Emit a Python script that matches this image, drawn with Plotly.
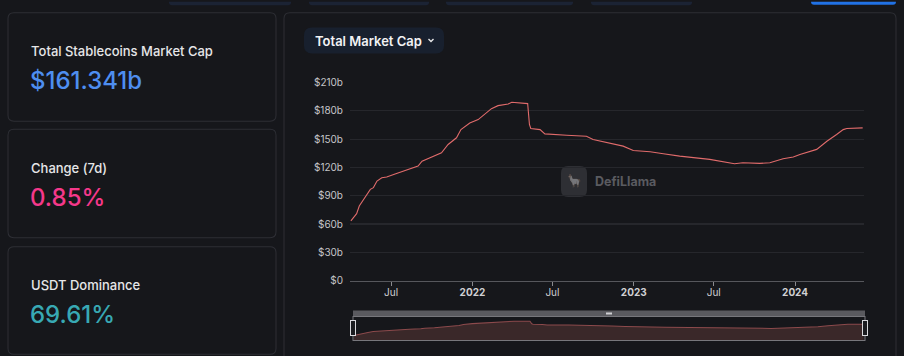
import plotly.graph_objects as go

W, H = 904, 356

# ---- data ----
dates = [
    "2021-04-01", "2021-04-14", "2021-04-20", "2021-05-03", "2021-05-15", "2021-05-22",
    "2021-05-30", "2021-06-10", "2021-06-21", "2021-07-10", "2021-08-05", "2021-08-31",
    "2021-09-09", "2021-10-01", "2021-10-23", "2021-11-07", "2021-11-26", "2021-12-06",
    "2021-12-26", "2022-01-14", "2022-01-29", "2022-02-13", "2022-02-28", "2022-03-23",
    "2022-03-31", "2022-04-30", "2022-05-06", "2022-05-10", "2022-05-13", "2022-06-03",
    "2022-06-14", "2022-08-02", "2022-09-16", "2022-10-01", "2022-11-08", "2022-12-08",
    "2022-12-31", "2023-02-07", "2023-03-09", "2023-04-15", "2023-06-22", "2023-08-17",
    "2023-09-05", "2023-10-13", "2023-11-05", "2023-12-05", "2023-12-28", "2024-01-12",
    "2024-02-19", "2024-03-13", "2024-04-04", "2024-04-19", "2024-04-27", "2024-06-02",
]
market_cap_b = [
    63.3, 71.0, 79.0, 88.0, 96.7, 98.5,
    105.5, 109.0, 109.7, 113.0, 116.8, 121.4,
    126.6, 130.9, 135.4, 144.2, 151.3, 160.0,
    167.0, 170.6, 175.9, 182.2, 185.4, 187.1,
    188.9, 187.8, 187.5, 165.4, 161.1, 160.0,
    155.5, 154.0, 153.0, 149.5, 146.0, 142.5,
    137.9, 136.5, 134.4, 131.9, 128.4, 123.8,
    124.9, 124.2, 124.9, 129.1, 130.9, 133.7,
    139.0, 147.7, 154.8, 160.0, 161.1, 161.8,
]
y_ticks = [0, 30, 60, 90, 120, 150, 180, 210]
y_tick_labels = ["$0", "$30b", "$60b", "$90b", "$120b", "$150b", "$180b", "$210b"]
x_ticks = ["2021-07-01", "2022-01-01", "2022-07-01", "2023-01-01", "2023-07-01", "2024-01-01"]
x_tick_labels = ["Jul", "<b>2022</b>", "Jul", "<b>2023</b>", "Jul", "<b>2024</b>"]

stat_titles = ["Total Stablecoins Market Cap", "Change (7d)", "USDT Dominance"]
stat_values = ["$161.341b", "0.85%", "69.61%"]
stat_colors = ["#4e8ef0", "#f5388a", "#38a9b4"]

BG = "#16171b"
BORDER = "#2e2f35"
LINE = "#e06b6b"
FONT = "Inter"


def px(x):
    return x / W


def py(y):
    return 1 - y / H


def rrect(x0, y0, x1, y1, r, fill, line=None, lw=1, open_bottom=False):
    X0, X1 = px(x0), px(x1)
    Y0, Y1 = py(y0), py(y1)
    rx, ry = r / W, r / H
    if open_bottom:
        p = (f"M {X0},{Y1} L {X0},{Y0-ry} Q {X0},{Y0} {X0+rx},{Y0} "
             f"L {X1-rx},{Y0} Q {X1},{Y0} {X1},{Y0-ry} L {X1},{Y1}")
    else:
        p = (f"M {X0+rx},{Y0} L {X1-rx},{Y0} Q {X1},{Y0} {X1},{Y0-ry} "
             f"L {X1},{Y1+ry} Q {X1},{Y1} {X1-rx},{Y1} L {X0+rx},{Y1} "
             f"Q {X0},{Y1} {X0},{Y1+ry} L {X0},{Y0-ry} Q {X0},{Y0} {X0+rx},{Y0} Z")
    return dict(type="path", path=p, xref="paper", yref="paper", fillcolor=fill,
                line=dict(color=line if line else "rgba(0,0,0,0)", width=lw if line else 0),
                layer="below")


def tab(x0, x1, y1, r, fill):
    # flat top at the page edge, rounded bottom corners
    X0, X1 = px(x0), px(x1)
    Y0, Y1 = py(0), py(y1)
    rx, ry = r / W, min(r, y1) / H
    p = (f"M {X0},{Y0} L {X1},{Y0} L {X1},{Y1+ry} Q {X1},{Y1} {X1-rx},{Y1} "
         f"L {X0+rx},{Y1} Q {X0},{Y1} {X0},{Y1+ry} Z")
    return dict(type="path", path=p, xref="paper", yref="paper", fillcolor=fill,
                line=dict(width=0), layer="below")


fig = go.Figure()

# main line
fig.add_trace(go.Scatter(x=dates, y=market_cap_b, mode="lines",
                         line=dict(color=LINE, width=1.1), hoverinfo="skip",
                         xaxis="x", yaxis="y", showlegend=False))
# mini overview in the zoom slider
fig.add_trace(go.Scatter(x=dates, y=market_cap_b, mode="lines", fill="tozeroy",
                         line=dict(color="#8c4a4c", width=1), fillcolor="#3a2829",
                         hoverinfo="skip", xaxis="x2", yaxis="y2", showlegend=False))

shapes = []
# top strip tabs
for x0, x1 in [(169, 291), (309, 429), (446, 573), (591, 692)]:
    shapes.append(tab(x0, x1, 3.5, 3, "#1b2334"))
shapes.append(tab(811, 896, 3, 3, "#2172e5"))

# cards
for y0, y1 in [(11, 120), (128, 237), (246, 354)]:
    shapes.append(rrect(8, y0, 276, y1, 6, BG, BORDER, 1))
shapes.append(rrect(284, 11, 896, 356, 6, BG, BORDER, 1, open_bottom=True))

# title button
shapes.append(rrect(304, 26, 444, 52, 8, "#18202e"))
shapes.append(dict(type="path", xref="paper", yref="paper",
                   path=f"M {px(428.5)},{py(37.5)} L {px(431)},{py(40)} L {px(433.5)},{py(37.5)}",
                   line=dict(color="#e8e8ea", width=1.4)))

# watermark logo
shapes.append(rrect(561, 165, 587, 196, 7, "#2e2f34"))

# slider frame
shapes.append(dict(type="rect", xref="paper", yref="paper", x0=px(353), x1=px(865),
                   y0=py(316), y1=py(310), fillcolor="#5a5a5f", line=dict(width=0)))
shapes.append(dict(type="rect", xref="paper", yref="paper", x0=px(353), x1=px(865),
                   y0=py(340), y1=py(316), fillcolor="rgba(0,0,0,0)",
                   line=dict(color="#77777c", width=1)))
for hx in (353, 865):
    shapes.append(dict(type="rect", xref="paper", yref="paper", x0=px(hx - 2.5), x1=px(hx + 2.5),
                       y0=py(335), y1=py(320), fillcolor="#1b1c20",
                       line=dict(color="#d8d8dc", width=1), layer="above"))
shapes.append(dict(type="rect", xref="paper", yref="paper", x0=px(606), x1=px(612),
                   y0=py(314), y1=py(312), fillcolor="#cfcfd3", line=dict(width=0), layer="above"))

annotations = []
for i, (t, v, c) in enumerate(zip(stat_titles, stat_values, stat_colors)):
    ty = [50, 167, 285][i]
    vy = [79, 196, 314][i]
    annotations.append(dict(text=t, x=px(29), y=py(ty), xref="paper", yref="paper",
                            xanchor="left", yanchor="middle", showarrow=False,
                            font=dict(family=FONT, size=13, color="#e6e6e8", weight=500)))
    annotations.append(dict(text=v, x=px(28), y=py(vy), xref="paper", yref="paper",
                            xanchor="left", yanchor="middle", showarrow=False,
                            font=dict(family=FONT, size=24, color=c, weight=500)))

annotations.append(dict(text="Total Market Cap", x=px(313), y=py(39.5), xref="paper",
                        yref="paper", xanchor="left", yanchor="middle", showarrow=False,
                        font=dict(family=FONT, size=13, color="#f2f2f4", weight=600)))
annotations.append(dict(text="<b>DefiLlama</b>", x=px(593), y=py(181), xref="paper",
                        yref="paper", xanchor="left", yanchor="middle", showarrow=False,
                        font=dict(family=FONT, size=12.5, color="#5a5b60")))
annotations.append(dict(text="🦙", x=px(574), y=py(180), xref="paper",
                        yref="paper", xanchor="center", yanchor="middle", showarrow=False,
                        opacity=0.35, font=dict(family=FONT, size=12, color="#8a8a8e")))

x_range = ["2021-03-30", "2024-06-05"]

fig.update_layout(
    width=W, height=H,
    margin=dict(l=0, r=0, t=0, b=0),
    paper_bgcolor=BG, plot_bgcolor="rgba(0,0,0,0)",
    font=dict(family=FONT),
    shapes=shapes, annotations=annotations,
    xaxis=dict(domain=[px(350), px(864)], range=x_range, type="date",
               tickvals=x_ticks, ticktext=x_tick_labels, showgrid=False,
               showline=True, linecolor="#56575c", linewidth=1,
               ticks="outside", ticklen=4, tickcolor="#8a8a8e", tickwidth=1,
               ticklabelstandoff=-2,
               tickfont=dict(family=FONT, size=10, color="#d0d0d3"),
               anchor="y", zeroline=False, fixedrange=True),
    yaxis=dict(domain=[py(280), py(81)], range=[0, 210],
               tickvals=y_ticks, ticktext=y_tick_labels, showgrid=True,
               gridcolor="#26272c", gridwidth=1, zeroline=False, showline=False,
               ticks="", ticklabelstandoff=6,
               tickfont=dict(family=FONT, size=10, color="#c4c4c8"),
               anchor="x", fixedrange=True),
    xaxis2=dict(domain=[px(353), px(865)], range=x_range, type="date", visible=False,
                anchor="y2", fixedrange=True),
    yaxis2=dict(domain=[py(340), py(316)], range=[19, 230], visible=False,
                anchor="x2", fixedrange=True),
)

post = (
    "document.documentElement.style.cssText='margin:0;padding:0;overflow:hidden;height:356px;background:#16171b';"
    "document.body.style.cssText='margin:0;padding:0;overflow:hidden;height:356px;background:#16171b';"
    "var gd=document.getElementById('{plot_id}');"
    "gd.style.position='fixed';gd.style.top='0px';gd.style.left='0px';"
    "gd.style.transformOrigin='0 0';gd.style.transform='translateY(-4.5px) scaleY(1.031)';"
)
fig.write_html("out.html", config={"displayModeBar": False}, post_script=post)
